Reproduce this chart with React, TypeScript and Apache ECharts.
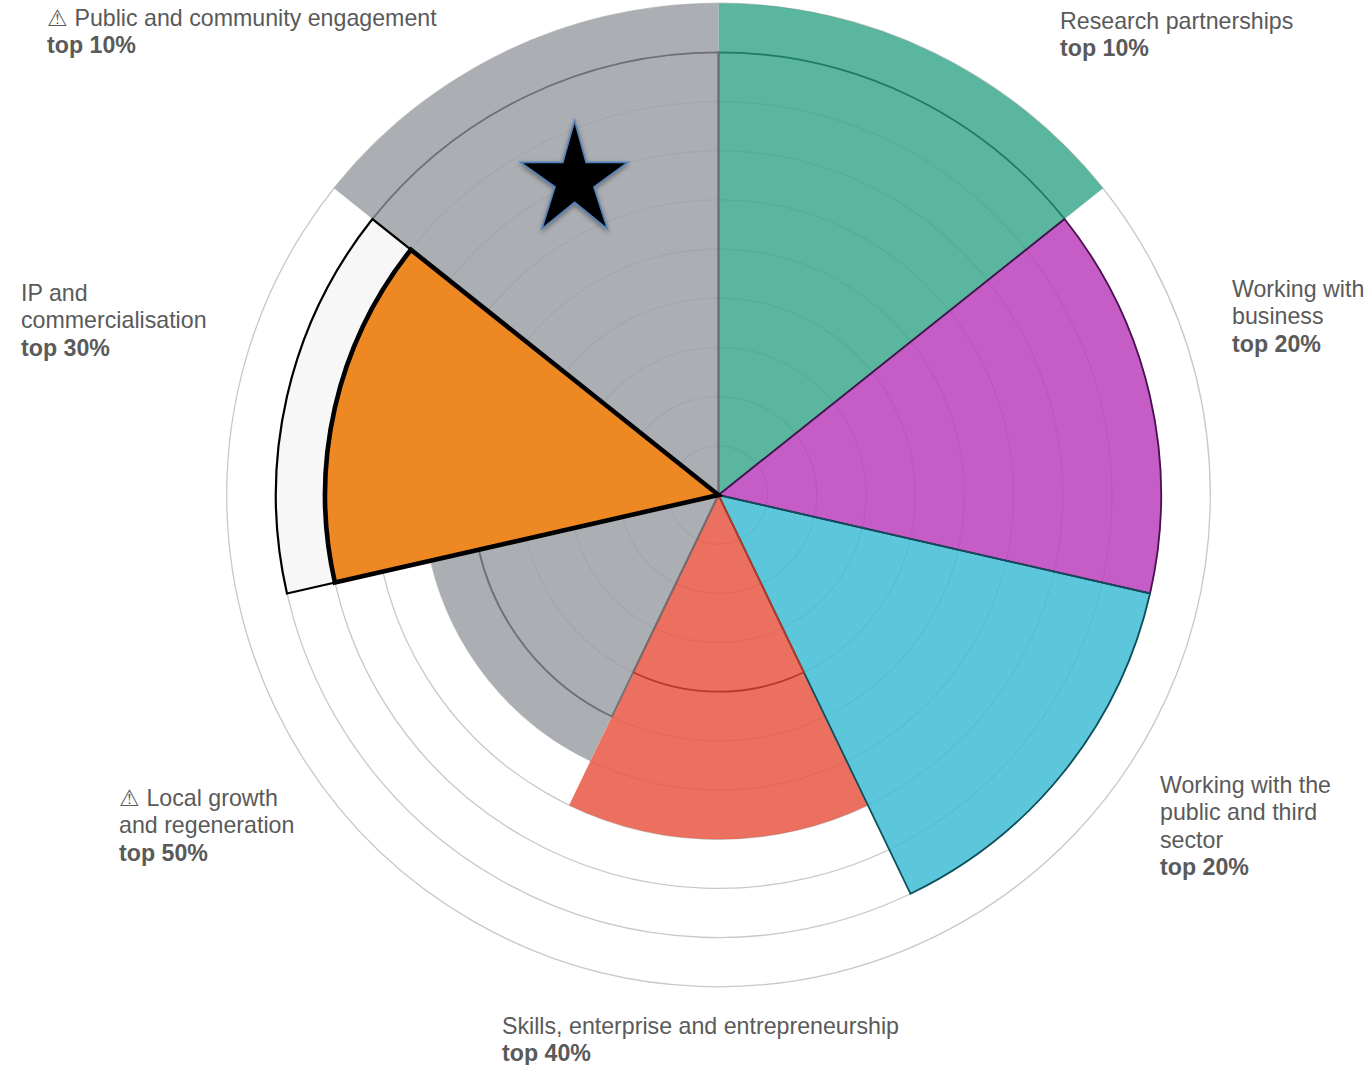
import React, { useEffect, useRef } from "react";
import * as echarts from "echarts";

const categories = [
  "Research partnerships",
  "Working with business",
  "Working with the public and third sector",
  "Skills, enterprise and entrepreneurship",
  "Local growth and regeneration",
  "IP and commercialisation",
  "Public and community engagement",
];
const scores = [10, 9, 9, 7, 6, null, 10];
const benchmarks = [9, 9, 9, 4, 5, null, 9];
const highlightScores = [null, null, null, null, null, 8, null];
const highlightBenchmarks = [null, null, null, null, null, 9, null];
const starPoint = [7, "Public and community engagement"];

const labelLines = [
  ["Research partnerships"],
  ["Working with", "business"],
  ["Working with the", "public and third", "sector"],
  ["Skills, enterprise and entrepreneurship"],
  ["\u26A0 Local growth", "and regeneration"],
  ["IP and", "commercialisation"],
  ["\u26A0 Public and community engagement"],
];
const labelBold = ["top 10%", "top 20%", "top 20%", "top 40%", "top 50%", "top 30%", "top 10%"];

const labelPos = [
  [1060, 7],
  [1232, 275],
  [1160, 771],
  [502, 1012],
  [119, 784],
  [21, 279],
  [47, 4],
];
const fills = [
  "rgba(61,169,142,0.85)",
  "rgba(188,63,187,0.85)",
  "rgba(63,188,213,0.85)",
  "rgba(233,87,68,0.85)",
  "rgba(156,160,165,0.85)",
  "#ee8822",
  "rgba(156,160,165,0.85)",
];
const edges = ["#1f7a66", "#4a1050", "#0f4f5c", "#b53a2a", "#6e7075", "#000", "#6e7075"];
const STAR =
  "path://M283 88L318 215L445 215L342 290L383 418L283 337L183 418L223 290L118 215L247 215Z";

export default function App() {
  const ref = useRef<HTMLDivElement>(null);
  useEffect(() => {
    const chart = echarts.init(ref.current!, undefined, { renderer: "svg" });
    const barBase = {
      type: "bar",
      coordinateSystem: "polar",
      barCategoryGap: "0%",
      barGap: "-100%",
      silent: true,
    };
    chart.setOption({
      animation: false,
      backgroundColor: "#fff",
      polar: { center: [718.5, 495], radius: [0, 491.8] },
      angleAxis: {
        type: "category",
        data: categories,
        startAngle: 90,
        axisLine: { show: false },
        axisTick: { show: false },
        axisLabel: { show: false },
        splitLine: { show: false },
      },
      radiusAxis: {
        type: "value",
        min: 0,
        max: 10,
        interval: 1,
        axisLine: { show: false },
        axisTick: { show: false },
        axisLabel: { show: false },
        splitLine: { show: true, lineStyle: { color: "#c8c8c8", width: 1.3 } },
      },
      series: [
        {
          ...barBase,
          name: "score",
          data: scores.map((v, i) => ({ value: v, itemStyle: { color: fills[i] } })),
        },
        {
          ...barBase,
          name: "benchmark",
          data: benchmarks.map((v, i) => ({
            value: v,
            itemStyle: { color: "transparent", borderColor: edges[i], borderWidth: 1.8 },
          })),
        },
        {
          ...barBase,
          name: "highlight benchmark",
          data: highlightBenchmarks,
          itemStyle: { color: "#f7f7f7", borderColor: "#000", borderWidth: 2.2 },
        },
        {
          ...barBase,
          name: "highlight score",
          data: highlightScores,
          itemStyle: { color: "#ee8822", borderColor: "#000", borderWidth: 4.6 },
        },
        {
          type: "scatter",
          coordinateSystem: "polar",
          silent: true,
          data: [starPoint],
          symbol: STAR,
          symbolSize: [107, 108],
          symbolOffset: [5, -10],
          itemStyle: {
            color: "#000",
            borderColor: "#4f81bd",
            borderWidth: 1.6,
            opacity: 1,
            shadowBlur: 5,
            shadowColor: "rgba(0,0,0,0.4)",
            shadowOffsetY: 2,
          },
        },
      ],
      graphic: labelLines.map((lines, i) => ({
        type: "text",
        x: labelPos[i][0],
        y: labelPos[i][1],
        silent: true,
        style: {
          text: lines.map((l) => `{n|${l}}`).join("\n") + `\n{b|${labelBold[i]}}`,
          rich: {
            n: {
              fontFamily: "Liberation Sans",
              fontSize: 23.2,
              lineHeight: 27.4,
              fill: "#5a5a5a",
            },
            b: {
              fontFamily: "Liberation Sans",
              fontSize: 23.2,
              fontWeight: "bold",
              lineHeight: 27.4,
              fill: "#5a5a5a",
            },
          },
        },
      })),
    });
    return () => chart.dispose();
  }, []);
  return (
    <div
      ref={ref}
      style={{ position: "fixed", left: 0, top: 0, width: 1371, height: 1065 }}
    />
  );
}
